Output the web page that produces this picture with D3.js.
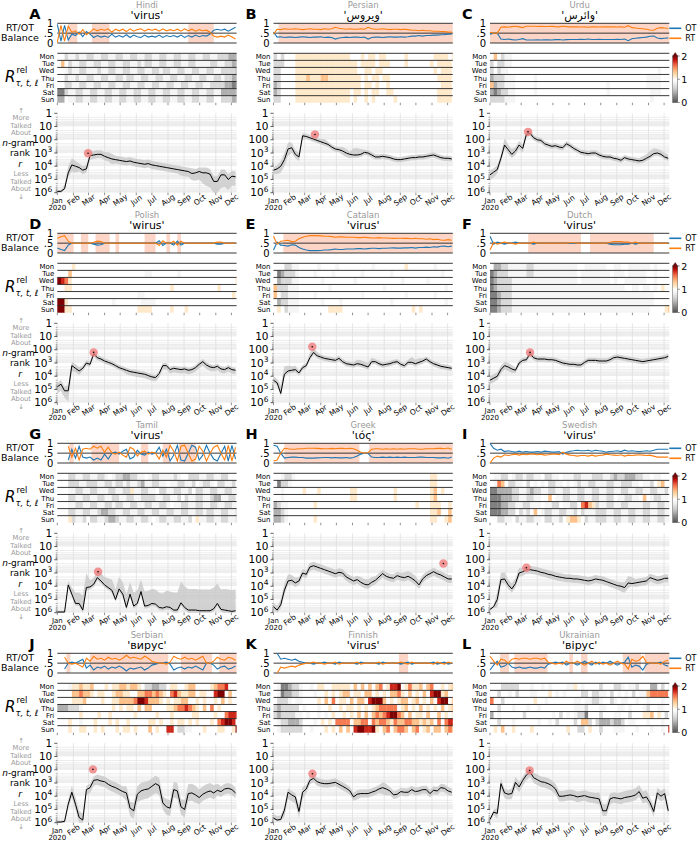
<!DOCTYPE html>
<html><head><meta charset="utf-8">
<script src="https://cdn.jsdelivr.net/npm/d3@7"></script>
<style>body{margin:0;background:#fff}svg{display:block;font-family:"DejaVu Sans",sans-serif}</style>
</head><body><svg id="c" width="700" height="843"></svg>
<script>
// ---------- DATA ----------
const LETTERS = ["A","B","C","D","E","F","G","H","I","J","K","L"];
const LANGS = ["Hindi","Persian","Urdu","Polish","Catalan","Dutch","Tamil","Greek","Swedish","Serbian","Finnish","Ukrainian"];
const WORDS = ["'virus'","'ویروس'","'وائرس'","'wirus'","'virus'","'virus'","'virus'","'ιός'","'virus'","'вирус'","'virus'","'вірус'"];
const DAYS = ["Mon","Tue","Wed","Thu","Fri","Sat","Sun"];
const RANK_TICKS = ["1","10","100","10^3","10^4","10^5","10^6"];
const BAL_TICKS = [["1",1],[".5",0.5],["0",0]];

// weekly log10(rank), week 0 = 1 Jan 2020
const RANK_A=[5.9,5.9,5.7,4.5,3.9,4.0,4.1,4.3,4.2,3.2, 3.15,3.1,3.1,3.25,3.35,3.45,3.5,3.55,3.6,3.65, 3.6,3.7,3.75,3.8,3.85,3.8,3.9,3.95,4.0,4.05, 4.1,4.15,4.2,4.25,4.3,4.35,4.4,4.55,4.5,4.4, 4.5,4.5,4.6,5.15,5.15,4.65,4.65,5.0,4.75,4.8];
const RANK_B=[4.3,4.2,4.0,3.5,2.7,2.6,3.1,3.3,1.7,1.75, 1.85,1.95,2.05,2.15,2.25,2.35,2.55,2.7,2.75,2.85, 3.0,3.1,3.15,3.15,3.1,2.95,3.0,3.15,3.3,3.3, 3.25,3.3,3.35,3.45,3.5,3.5,3.45,3.4,3.35,3.35, 3.3,3.3,3.25,3.2,3.15,3.25,3.35,3.4,3.4,3.45];
const RANK_C=[4.65,4.45,4.25,3.4,2.4,2.75,3.1,2.85,2.4,2.65, 1.6,1.5,1.85,2.0,2.05,2.3,2.4,2.5,2.45,2.55, 2.6,2.3,2.45,2.65,2.8,2.95,3.0,3.05,3.0,3.0, 3.15,3.25,3.3,3.3,3.4,3.45,3.55,3.35,3.45,3.5, 3.55,3.6,3.55,3.4,3.25,3.05,3.0,3.1,3.3,3.4];
const RANK_D=[4.8,4.6,5.1,5.1,3.2,3.4,3.6,3.4,3.0,3.1, 2.3,2.6,2.7,2.85,2.95,3.05,3.2,3.35,3.45,3.55, 3.65,3.7,3.75,3.8,3.85,3.95,4.05,4.1,3.8,3.2, 3.2,3.5,3.4,3.45,3.5,3.45,3.55,3.5,3.35,3.1, 2.9,3.15,3.3,3.35,3.25,3.45,3.5,3.35,3.5,3.55];
const RANK_E=[4.3,4.5,5.3,3.85,3.6,3.55,3.5,3.75,3.35,3.2, 2.6,2.2,2.45,2.55,2.65,2.7,2.75,2.8,2.65,2.9, 3.05,3.1,3.15,3.05,3.1,3.2,3.3,2.9,2.9,3.05, 3.15,3.1,3.05,2.95,2.9,3.1,3.2,2.95,2.95,3.05, 2.95,2.85,2.7,2.9,3.05,3.15,3.25,3.3,3.35,3.4];
const RANK_F=[4.3,4.15,4.0,3.5,3.2,3.3,3.45,3.55,3.0,2.8, 2.75,2.3,2.6,2.7,2.7,2.7,2.75,2.75,2.8,2.9, 3.0,3.05,3.1,3.1,3.15,3.15,2.95,2.8,2.8,2.8, 2.85,2.85,2.85,2.75,2.6,2.55,2.6,2.65,2.7,2.75, 2.8,2.85,2.9,2.85,2.8,2.75,2.7,2.65,2.6,2.5];
const RANK_G=[5.95,5.95,5.95,3.9,4.6,5.3,5.3,5.8,4.1,4.05, 3.85,3.35,3.6,3.9,4.1,4.3,5.0,4.2,4.6,5.6, 4.6,5.5,5.3,4.4,5.5,5.45,5.3,5.35,5.6,5.65, 5.55,5.6,5.8,5.8,5.25,5.6,5.8,5.8,5.8,5.85, 5.85,5.85,5.85,5.7,5.3,5.75,5.8,5.85,5.9,5.85];
const RANK_H=[5.55,5.8,5.4,4.3,3.6,3.55,3.75,3.6,3.0,3.1, 2.55,2.45,2.55,2.65,2.75,2.85,2.95,3.05,2.95,3.0, 3.3,3.45,3.6,3.5,3.7,3.85,3.9,3.7,3.55,3.3, 3.05,3.25,3.35,3.4,3.2,3.3,3.35,3.25,3.4,3.6, 3.9,3.45,3.2,3.05,2.9,3.05,3.15,3.3,3.45,3.45];
const RANK_I=[5.75,5.55,5.0,3.5,3.45,3.9,4.2,3.8,3.0,2.9, 2.75,2.75,2.8,2.85,2.95,3.0,3.1,3.15,3.25,3.3, 3.35,3.4,3.4,3.45,3.45,3.5,3.55,3.6,3.55,3.45, 3.5,3.55,3.65,3.75,3.85,3.95,4.0,4.1,3.75,3.8, 3.75,3.7,3.65,3.6,3.35,3.45,3.55,3.5,3.4,3.4];
const RANK_J=[5.95,5.95,5.9,4.6,3.7,4.6,5.6,5.8,3.5,3.35, 2.8,2.75,2.85,2.9,3.1,3.25,3.35,3.5,3.65,3.75, 4.9,5.1,3.85,3.6,3.5,3.45,3.25,3.05,3.2,4.5, 4.8,4.9,3.5,3.6,4.8,5.0,3.8,3.75,3.9,4.1, 3.85,3.7,3.6,3.75,3.55,3.65,3.45,3.4,3.5,3.75];
const RANK_K=[5.65,5.8,5.75,5.05,3.7,3.9,4.05,5.15,3.7,3.45, 2.8,2.65,2.9,3.0,3.05,3.05,3.0,2.95,3.1,3.25, 3.4,3.6,4.05,3.85,3.8,3.8,3.8,3.7,3.6,3.45, 3.35,3.45,3.6,3.9,3.85,3.65,3.7,3.7,3.5,3.65, 3.6,3.5,3.5,3.8,3.55,3.6,3.35,3.4,3.6,3.7];
const RANK_L=[5.75,5.2,5.3,3.05,3.75,3.85,3.8,2.95,3.3,2.8, 2.4,2.15,2.6,2.75,2.9,2.95,3.05,3.2,3.45,4.0, 4.0,3.95,3.9,3.95,4.05,4.0,3.95,4.05,4.1,4.15, 4.2,5.1,5.1,4.2,4.1,4.15,4.2,4.1,4.05,4.0, 3.9,3.65,4.15,4.05,4.5,5.15,3.75,4.0,3.8,5.1];

// band half-widths above (UP) and below (DN), base-36 digits in tenths of a decade
const UP_A="1135543333 3333443333 3333333333 3333333433 4444444444", DN_A="1113553333 3333343333 3333333333 3333444566 8aa99a9877";
const UP_B="2345543322 2222322223 3255422222 2222222222 2222222222", DN_B="3455543332 2222222223 3322222222 2222222222 2222222222";
const UP_C="3333544333 3322222222 2222222222 2222222222 2233443333", DN_C="4433333333 2222222222 2222222222 2222222222 2222222222";
const UP_D="3334333222 2222222222 2222222222 2222222222 2222222222", DN_D="5558433222 2222222223 3333333333 3333333333 3333333333";
const UP_E="3366433222 4332222222 2223333322 2222222243 3222222222", DN_E="2222222222 2222222222 2222222222 2222222222 2222222222";
const UP_F="3333333222 2222222222 2222222222 2222222222 2222222222", DN_F="3333333222 2222222222 2222222222 2222222222 2222222222";
const UP_G="1113588bb5 556678899a 9aa9bbbbbb ccddgggggg ggggffgggg", DN_G="1112222222 2222222222 2222222222 2222222222 2222222222";
const UP_H="3345544333 3333333333 3333444433 3333334444 3333333333", DN_H="2233333333 3333333333 3333333333 3333333333 3333333333";
const UP_I="1165544443 3333333333 3333333333 3333333455 3333333333", DN_I="1163333333 3333333333 3333333333 3333334442 3333333333";
const UP_J="1113555533 3444444445 5666666665 6666677776 6666544444", DN_J="1113444444 4444444446 6667777775 6666666665 5555444444";
const UP_K="3333333543 3333333333 3333333333 4433333333 3333333333", DN_K="1115555553 3333333333 3334333333 5533333333 3333333333";
const UP_L="1244334443 3344444444 4444444444 5554445555 5555444444", DN_L="2244444444 4444444444 4444444444 4444444444 4444444444";

// peak markers [week, log10 rank]
const DOT_A=[8.45,3.02], DOT_B=[11.4,1.6], DOT_C=[10.45,1.4], DOT_D=[10,2.2], DOT_E=[10.65,1.77], DOT_F=[11,2.2];
const DOT_G=[11.2,2.9], DOT_H=[46.7,2.28], DOT_I=[10,2.6], DOT_J=[9.8,1.97], DOT_K=[10.7,2.3], DOT_L=[10.9,2.05];

// weekly RT share of the RT/OT balance (OT = 1 - RT)
const RT_A=[0.05,0.9,0.1,0.85,0.55,0.62,0.45,0.68,0.42,0.55, 0.72,0.62,0.7,0.65,0.72,0.55,0.7,0.62,0.7,0.58, 0.72,0.6,0.68,0.72,0.6,0.7,0.65,0.7,0.6,0.72, 0.62,0.68,0.62,0.7,0.6,0.72,0.62,0.7,0.6,0.68, 0.62,0.65,0.55,0.35,0.3,0.35,0.3,0.4,0.3,0.2];
const RT_B=[0.45,0.7,0.68,0.72,0.7,0.7,0.72,0.7,0.68,0.7, 0.72,0.7,0.7,0.68,0.72,0.7,0.72,0.8,0.75,0.72, 0.7,0.72,0.7,0.7,0.72,0.7,0.8,0.72,0.7,0.7, 0.72,0.7,0.68,0.7,0.7,0.68,0.7,0.68,0.65,0.65, 0.62,0.65,0.62,0.62,0.6,0.6,0.58,0.58,0.55,0.55];
const RT_C=[0.55,0.5,0.5,0.8,0.82,0.8,0.83,0.85,0.82,0.78, 0.85,0.85,0.85,0.84,0.85,0.84,0.84,0.85,0.83,0.82, 0.85,0.83,0.82,0.82,0.82,0.81,0.82,0.8,0.82,0.82, 0.81,0.82,0.82,0.82,0.82,0.81,0.82,0.8,0.88,0.78, 0.76,0.74,0.72,0.7,0.66,0.65,0.75,0.78,0.76,0.74];
const RT_D=[0.75,0.82,0.88,0.6,0.5,0.5,0.5,0.5,0.5,0.5, 0.55,0.6,0.58,0.5,0.5,0.5,0.5,0.5,0.5,0.5, 0.5,0.5,0.5,0.5,0.5,0.5,0.5,0.5,0.38,0.62, 0.5,0.5,0.6,0.4,0.6,0.5,0.5,0.5,0.5,0.5, 0.5,0.5,0.5,0.5,0.55,0.55,0.5,0.5,0.5,0.5];
const RT_E=[0.85,0.45,0.6,0.62,0.65,0.58,0.6,0.72,0.8,0.85, 0.88,0.88,0.88,0.87,0.85,0.85,0.83,0.8,0.82,0.82, 0.8,0.8,0.8,0.78,0.78,0.8,0.78,0.76,0.76,0.78, 0.76,0.76,0.75,0.74,0.75,0.75,0.74,0.74,0.72,0.75, 0.72,0.72,0.7,0.72,0.68,0.7,0.66,0.65,0.68,0.65];
const RT_F=[0.15,0.55,0.45,0.5,0.55,0.5,0.5,0.45,0.5,0.5, 0.5,0.5,0.55,0.5,0.5,0.5,0.5,0.5,0.5,0.5, 0.5,0.5,0.52,0.52,0.5,0.5,0.5,0.5,0.5,0.5, 0.5,0.5,0.5,0.55,0.58,0.58,0.58,0.55,0.55,0.5, 0.55,0.5,0.5,0.5,0.5,0.5,0.5,0.5,0.5,0.5];
const RT_G=[null,null,null,0.85,0.3,0.75,0.15,0.7,0.75,0.7, 0.85,0.75,0.85,0.55,0.8,0.5,0.45,0.55,0.4,0.3, 0.8,0.7,0.35,0.55,0.6,0.45,0.55,0.5,0.2,0.65, 0.3,0.9,0.6,0.1,0.85,0.9,0.5,0.1,0.2,0.85, 0.6,0.1,0.5,0.8,0.9,0.5,0.15,0.9,0.1,0.8];
const RT_H=[0.1,0.15,0.5,0.75,0.72,0.7,0.7,0.72,0.72,0.75, 0.75,0.75,0.74,0.73,0.72,0.72,0.74,0.72,0.74,0.74, 0.72,0.75,0.72,0.65,0.55,0.5,0.52,0.7,0.72,0.72, 0.7,0.72,0.7,0.72,0.7,0.72,0.7,0.72,0.72,0.72, 0.7,0.7,0.72,0.72,0.72,0.74,0.74,0.72,0.76,0.7];
const RT_I=[0.0,0.25,0.35,0.3,0.42,0.38,0.42,0.45,0.4,0.45, 0.42,0.45,0.45,0.42,0.45,0.4,0.42,0.45,0.45,0.42, 0.55,0.45,0.4,0.38,0.35,0.38,0.38,0.35,0.4,0.35, 0.38,0.4,0.45,0.42,0.4,0.38,0.42,0.35,0.4,0.38, 0.4,0.42,0.4,0.38,0.4,0.35,0.3,0.3,0.3,0.3];
const RT_J=[null,null,0.8,0.5,0.45,0.5,0.4,0.3,0.75,0.6, 0.85,0.7,0.75,0.65,0.8,0.7,0.75,0.65,0.75,0.9, 0.75,0.8,0.75,0.7,0.85,0.75,0.6,0.55,0.5,0.5, 0.45,0.55,0.85,0.75,0.7,0.8,0.7,0.75,0.65,0.75, 0.85,0.5,0.5,0.6,0.8,0.7,0.65,0.8,0.75,0.65];
const RT_K=[null,0.0,0.3,0.25,0.3,0.35,0.3,0.4,0.45,0.5, 0.5,0.55,0.5,0.5,0.45,0.5,0.5,0.55,0.45,0.5, 0.5,0.5,0.5,0.55,0.45,0.5,0.5,0.5,0.5,0.55, 0.45,0.5,0.5,0.5,0.5,0.55,0.5,0.45,0.55,0.5, 0.5,0.5,0.5,0.5,0.45,0.55,0.5,0.45,0.55,0.5];
const RT_L=[0.85,0.6,0.4,0.7,0.65,0.5,0.7,0.75,0.7,0.75, 0.75,0.7,0.75,0.75,0.7,0.75,0.55,0.5,0.45,0.5, 0.45,0.6,0.5,0.5,0.6,0.5,0.4,0.5,0.6,0.45, 0.55,0.45,0.5,0.4,0.5,0.6,0.5,0.45,0.2,0.7, 0.6,0.65,0.85,0.55,0.5,0.5,0.5,0.45,0.6,0.65];

// shaded (RT-dominant) intervals, in weeks
const SHADE_A=[[3,5.5],[9.5,14.3],[36,43]];
const SHADE_B=[[1.4,49.5]];
const SHADE_C=[[0,49.5]];
const SHADE_D=[[0,4.5],[6.5,8.5],[10.5,14.4],[16,17],[24,27],[30,31],[33,34]];
const SHADE_E=[[2.7,49.5]];
const SHADE_F=[[10.5,25],[27.5,45]];
const SHADE_G=[[3.3,4.5],[9.4,17],[23,25],[29,31],[33.5,38]];
const SHADE_H=[[3,23.6],[26.3,49.5]];
const SHADE_I=[];
const SHADE_J=[[2.5,3.6],[9,30.5],[34,42.5],[44.5,49.5]];
const SHADE_K=[[34.5,37]];
const SHADE_L=[[2.8,5.2],[6.7,15.8],[21.8,22.8],[25,26.8],[36.5,41.5],[42.5,49.5]];

// weekly relative rank heatmap, Mon..Sun; digit d -> value d/4.5 (0..2), '.' -> 1
const HEAT_A=["..34434433 4433443344 3344334433 4433443344 3344333222",
".6.3443344 3344334433 4434334433 4433443344 4433443322",
"..43443344 4344334433 4433443343 3443344334 4334433332",
"..34434433 4433443343 3443344334 4334433443 3443343322",
"..33443344 3344334433 4433443344 3344334433 4433332211",
"1134433443 3443344334 4334433443 3443344334 4334422222",
"22.4433443 3443344334 4334433443 3443344334 433..33322"];
const HEAT_B=["3.3...5555 5555555555 5...5.55.5 5.....5... ....5555.5",
"333...5555 5555555555 555.5555.5 55....5... ...5.5555.",
"33....5555 5555555555 555..55.55 .......... ....5.555.",
"33....5556 5556655555 5555.5.55. 55........ .....5555.",
"23....5555 5555555555 5555.55.5. .5........ ......555.",
"23....5555 5555555555 5.55.5.55. .55....... .....5555.",
"33....5555 5555555555 5.5..5.5.. ...5...... .....5555."];
const HEAT_C=[".6.344.... .......... .......... .......... ..........",
"3.3344.... .......... .......... .......... ..........",
"3.344..... .......... .......... .......... ......4...",
"2333444... ..4....... .......... .......... ...4444...",
"6233444... ..4....... .......... ..4....... ...4444...",
"2123344... ..4....... .......... ..4....... ....444...",
"3333444... .......... .......... .......... ....4....."];
const HEAT_D=["....5..... .......... .......... .......... ..........",
"...6...... .......... ....44.... ...4...... ..........",
"9875...... .......... .......... .......... .........5",
"..55...... .......... .......... .5........ ....5.....",
".......... .......... ..44...... .......... ........5.",
"995....... .....4.... ...4444... .......... ..........",
"9955...... .......... ..5555.... .5...5.... .........."];
const HEAT_E=["...3344... ..4....4.. .......4.. ......5... ....4.....",
".123334... .4....4... ....4..... ..4....... ......4...",
".233344... ...4...... ..4....... .....4.... ..4.......",
"6333444... .....4.... .......... 4......... .......4..",
"6.33444... .4........ ....4..... ......4... ....4.....",
".233444... ...4....4. .......... ..4....... .......4..",
".5.3444... .....5555. .......... ........5. 5.........."];
const HEAT_F=[".223344444 3344444444 4444..4444 44..44..44 4444.4....",
"1233344444 3344444444 4444.44444 444.444.44 444..4....",
"1233334444 4444444444 4444.44444 444.4..444 444..4....",
"1233334444 4444444444 4444444444 4444444..4 4.44.4.5..",
"1123334444 4444444444 4444444444 4444444444 44444.....",
"1123334444 4444444444 4444444444 4444444444 44444.....",
"1123334444 4444444444 4444444444 4444444444 4444....56"];
const HEAT_G=["...3344334 4334.43322 3344.43344 4434..3334 4334433...",
"...3334433 3443343343 4432443344 .4433443.4 334.33443.",
"...4433443 3444334433 5443344.33 4433443.33 4433443344",
"...3344334 4334433443 3443333443 3443.34433 4432244334",
"...4433443 3443343344 3344334433 4.44334433 4433443344",
"...3344334 4322334433 4433443344 3344334433 4334433443",
"...53443.3 3443223443 344334.433 4433443.54 4334433443"];
const HEAT_H=["..4334.... .......... .......... .......... ...55.....",
".1334..... .......... .......... .......... ...55.....",
"..4.....5. ..5....... .55....... ...5...... ...56.5...",
"..4....... .......... .55....... ...5...... ...56.....",
"2344...... .5........ .......... .........5 ...555..5.",
"2234...... .......... .......... .......... ...556..6.",
"2234...... .5........ .......... .......... ...55..56."];
const HEAT_I=[".4433.4334 3344.3344. 4443344433 3443233222 3344.44...",
".476.3344. 3.4.4.3344 .4.4344334 4433443334 4.443.56..",
"1122223344 3233443344 3344334433 4433443344 334433443.",
"1112223344 3344..6.44 3344334433 4433.44334 4.6.43344.",
"1112233443 3444.4433. 4433.78653 4433443344 4433443344",
"1112233.34 3.6.433443 3443.34443 3344334433 4433443344",
"..3344.344 3344.33443 .5665.3443 3344334433 4433443344"];
const HEAT_J=["...455655 6...5.5566 5665.33223 3.55..566. ...56778..",
"....66766 5.55..5665 5..6677676 5.7865566. 55..899.6.",
"....5556. ...5..5566 6679986665 .5.5566..5 .5..5.6.5.",
"2223334... .....5.5. 55.6.66... .55677876 5.6.7.5...",
"......5... .5..5..... .5.....5.. .5.....55. ...5..7888",
"...5..4... 5...5.5.. 5.....55.5 ..5.55.5.5 ...5.78998",
"...5..55.. 5.5...5.55 .5...6.5.. 88.3344... 5...55..59"];
const HEAT_K=[".4112334.. 4.55..5555 5.6.6.6.67 .5889.5755 6.67..5.56",
".4122334.. .4..5.5.56 6.55.66.5. 5.6675.6.5 .6.89956..",
".3334.44.. ..5.6.7.55 .6.66.8999 6.5.566.56 .5.6.899.6",
"3233333.4. ..4..5..5. 55.5.5.567 7777.56.5. 6.5.5.6.56",
"32333344.4 ..4.4.5..5 .5.6.6.676 789976.6.5 5.6..6.5.5",
".4332223.. .4.5.5.777 7.6677.767 7657667766 5656.7.788",
".4333333.. 4...5.5.6. 6.8998895. 67.6776.67 .56.66.676"];
const HEAT_L=["...33333.. .4..4.4... .445.4.... 3...334.44 3...22.3.4",
"..3..4.3.. .44...5.4. 4....33.33 44.3.4.4.3 .44677777",
"7..3...... ..5..4.... ...44.4433 4..34.44.. 4..4...4.",
"..3...4... 4..4...... ...4443... 44...44.4. ..43..44..",
"2.4......3 .......4.3 .4.4331... 3...44..3. ..556.5.3.",
"..3...4... ...4..4.3. ...3.663.3 2223223.44 ...4...4..",
".5.6..5... .5........ .5..33.5.. 3...444... 4...4..4.8"];

const PANELS = [
 [RANK_A,UP_A,DN_A,DOT_A,RT_A,SHADE_A,HEAT_A],[RANK_B,UP_B,DN_B,DOT_B,RT_B,SHADE_B,HEAT_B],
 [RANK_C,UP_C,DN_C,DOT_C,RT_C,SHADE_C,HEAT_C],[RANK_D,UP_D,DN_D,DOT_D,RT_D,SHADE_D,HEAT_D],
 [RANK_E,UP_E,DN_E,DOT_E,RT_E,SHADE_E,HEAT_E],[RANK_F,UP_F,DN_F,DOT_F,RT_F,SHADE_F,HEAT_F],
 [RANK_G,UP_G,DN_G,DOT_G,RT_G,SHADE_G,HEAT_G],[RANK_H,UP_H,DN_H,DOT_H,RT_H,SHADE_H,HEAT_H],
 [RANK_I,UP_I,DN_I,DOT_I,RT_I,SHADE_I,HEAT_I],[RANK_J,UP_J,DN_J,DOT_J,RT_J,SHADE_J,HEAT_J],
 [RANK_K,UP_K,DN_K,DOT_K,RT_K,SHADE_K,HEAT_K],[RANK_L,UP_L,DN_L,DOT_L,RT_L,SHADE_L,HEAT_L]
].map((p,i)=>({letter:LETTERS[i],lang:LANGS[i],word:WORDS[i],rank:p[0],up:p[1],dn:p[2],dot:p[3],rt:p[4],shade:p[5],heat:p[6]}));

// ---------- DRAWING ----------
const svg = d3.select("#c");
const COLX=[57.3,273.5,490], W=179.3, ROWH=210;
const BAL_TOP=23.3, BAL_BOT=43, HM_TOP=53.3, HM_ROW=7.06, RK_TOP=113.3, RK_BOT=192.7;
const t0=new Date(2020,0,1), t1=new Date(2020,11,11);
const x=d3.scaleTime().domain([t0,t1]).range([0,W]);
const wd=w=>new Date(t0.getTime()+w*7*864e5);
const xw=w=>Math.max(0,Math.min(W,x(wd(w))));
const months=d3.timeMonth.range(t0,t1);
const yb=d3.scaleLinear().domain([0,1]).range([BAL_BOT,BAL_TOP]);
const yr=d3.scaleLinear().domain([0,6]).range([RK_TOP,RK_BOT]);
const MONTHNAMES=d3.timeFormat("%b");
const BLUE="#1f77b4", ORANGE="#ff7f0e", SHADE="#fcd5c6";
const heatColor=v=> v<=1 ? d3.interpolateGreys(0.75*(1-v)) : d3.interpolateOrRd(Math.min(1,v-1));
const clean=s=>s.replace(/\s/g,"");
const cellVal=ch=> ch==="." ? 1 : (+ch)/4.5;
const spread=(s,i)=>{const c=clean(s)[i]; return c?parseInt(c,36)/10:0.2;};

PANELS.forEach((P,i)=>{
  const col=i%3,row=Math.floor(i/3);
  const g=svg.append("g").attr("transform",`translate(${COLX[col]},${row*ROWH})`);
  // titles
  g.append("text").attr("x",W/2).attr("y",8).attr("text-anchor","middle").attr("font-size",8.5).attr("fill","#9a9a9a").text(P.lang);
  g.append("text").attr("x",W/2).attr("y",18.8).attr("text-anchor","middle").attr("font-size",11).attr("fill","#000").text(P.word);
  g.append("text").attr("x",-28).attr("y",19).attr("font-size",14.5).attr("font-weight","bold").text(P.letter);

  // ---- balance ----
  P.shade.forEach(([a,b])=>g.append("rect").attr("x",xw(a)).attr("y",BAL_TOP).attr("width",Math.max(0,xw(b)-xw(a))).attr("height",BAL_BOT-BAL_TOP).attr("fill",SHADE));
  [0,0.5,1].forEach(v=>g.append("line").attr("x1",0).attr("x2",W).attr("y1",yb(v)).attr("y2",yb(v)).attr("stroke","#222").attr("stroke-width",0.9));
  const bl=d3.line().defined(d=>d.v!=null).x(d=>x(wd(d.w))).y(d=>yb(d.v));
  const ot=P.rt.map((v,w)=>({w,v:v==null?null:1-v})), rt=P.rt.map((v,w)=>({w,v}));
  g.append("path").attr("d",bl(ot)).attr("fill","none").attr("stroke",BLUE).attr("stroke-width",1.1);
  g.append("path").attr("d",bl(rt)).attr("fill","none").attr("stroke",ORANGE).attr("stroke-width",1.1);
  BAL_TICKS.forEach(([t,v])=>g.append("text").attr("x",-4).attr("y",yb(v)+3.6).attr("text-anchor","end").attr("font-size",10).text(t));

  // ---- heatmap ----
  P.heat.forEach((s,r)=>{
    const cs=clean(s);
    for(let c=0;c<50;c++){
      const ch=cs[c]||".";
      const x0=xw(c), x1=xw(c+1);
      if(x1<=x0) continue;
      g.append("rect").attr("x",x0).attr("y",HM_TOP+r*HM_ROW).attr("width",Math.min(W-x0,x1-x0+0.3)).attr("height",HM_ROW).attr("fill",heatColor(cellVal(ch)));
    }
  });
  for(let r=0;r<7;r++){
    g.append("line").attr("x1",0).attr("x2",W).attr("y1",HM_TOP+r*HM_ROW).attr("y2",HM_TOP+r*HM_ROW).attr("stroke","#222").attr("stroke-width",0.9);
    g.append("text").attr("x",-3).attr("y",HM_TOP+(r+0.5)*HM_ROW+2.5).attr("text-anchor","end").attr("font-size",7).text(DAYS[r]);
  }
  months.forEach(m=>g.append("line").attr("x1",x(m)).attr("x2",x(m)).attr("y1",HM_TOP+7*HM_ROW).attr("y2",HM_TOP+7*HM_ROW+2.5).attr("stroke","#444").attr("stroke-width",0.6));

  // ---- rank plot ----
  for(let k=0;k<6;k++) for(let m=2;m<=9;m++){
    const yy=yr(k+Math.log10(m));
    g.append("line").attr("x1",0).attr("x2",W).attr("y1",yy).attr("y2",yy).attr("stroke","#ececec").attr("stroke-width",1);
  }
  months.forEach(m=>g.append("line").attr("x1",x(m)).attr("x2",x(m)).attr("y1",RK_TOP).attr("y2",RK_BOT).attr("stroke","#dcdcdc").attr("stroke-width",0.7));
  const band=P.rank.map((v,w)=>({w,lo:Math.max(0,v-spread(P.up,w)),hi:Math.min(6,v+spread(P.dn,w))}));
  g.append("path").attr("d",d3.area().x(d=>x(wd(d.w))).y0(d=>yr(d.lo)).y1(d=>yr(d.hi))(band)).attr("fill","#c8c8c8").attr("opacity",0.8);
  g.append("path").attr("d",d3.line().x((d,w)=>x(wd(w))).y(d=>yr(d))(P.rank)).attr("fill","none").attr("stroke","#000").attr("stroke-width",1);
  g.append("circle").attr("cx",x(wd(P.dot[0]))).attr("cy",yr(P.dot[1])).attr("r",4.2).attr("fill","#f07c7c").attr("opacity",0.8);
  g.append("circle").attr("cx",x(wd(P.dot[0]))).attr("cy",yr(P.dot[1])).attr("r",0.8).attr("fill","#000");
  // y axis
  RANK_TICKS.forEach((t,k)=>{
    g.append("line").attr("x1",-3).attr("x2",0).attr("y1",yr(k)).attr("y2",yr(k)).attr("stroke","#333").attr("stroke-width",0.8);
    const tx=g.append("text").attr("x",-5).attr("y",yr(k)+3.6).attr("text-anchor","end").attr("font-size",10.5);
    if(t.includes("^")){const [b,e]=t.split("^"); tx.append("tspan").text(b); tx.append("tspan").attr("dy",-4.5).attr("font-size",7.5).text(e);}
    else tx.text(t);
    if(k<6) for(let m=2;m<=9;m++){const yy=yr(k+Math.log10(m)); g.append("line").attr("x1",-1.6).attr("x2",0).attr("y1",yy).attr("y2",yy).attr("stroke","#555").attr("stroke-width",0.5);}
  });
  // x axis labels
  months.forEach(m=>{
    const mx=x(m);
    g.append("line").attr("x1",mx).attr("x2",mx).attr("y1",RK_BOT).attr("y2",RK_BOT+2.5).attr("stroke","#444").attr("stroke-width",0.6);
    if(m.getMonth()===0){
      g.append("text").attr("x",mx).attr("y",203.2).attr("text-anchor","middle").attr("font-size",7).text("Jan");
      g.append("text").attr("x",mx).attr("y",210.3).attr("text-anchor","middle").attr("font-size",7).text("2020");
    } else {
      g.append("text").attr("transform",`translate(${mx},200) rotate(-35)`).attr("text-anchor","middle").attr("dy","0.35em").attr("font-size",7.5).text(MONTHNAMES(m));
    }
  });

  // ---- left column labels ----
  if(col===0){
    const L=g.append("g").attr("transform","translate(-57.3,0)");
    L.append("text").attr("x",20).attr("y",30.8).attr("text-anchor","middle").attr("font-size",9.5).text("RT/OT");
    L.append("text").attr("x",20).attr("y",41).attr("text-anchor","middle").attr("font-size",9.5).text("Balance");
    L.append("text").attr("x",5).attr("y",82).attr("font-size",15).attr("font-style","italic").text("R");
    L.append("text").attr("x",16.5).attr("y",72.5).attr("font-size",8.5).text("rel");
    L.append("text").attr("x",15.5).attr("y",85.5).attr("font-size",8.5).attr("font-style","italic").text("τ, t, ℓ");
    const gray=[["↑",112.5],["More",120],["Talked",127.7],["About",135.3],["Less",176],["Talked",183.6],["About",191.3],["↓",199]];
    gray.forEach(([t,y])=>L.append("text").attr("x",21).attr("y",y).attr("text-anchor","middle").attr("font-size",6.8).attr("fill","#9a9a9a").text(t));
    const ng=L.append("text").attr("x",18.5).attr("y",145.6).attr("text-anchor","middle").attr("font-size",9);
    ng.append("tspan").attr("font-style","italic").text("n"); ng.append("tspan").text("-gram");
    L.append("text").attr("x",20).attr("y",156.2).attr("text-anchor","middle").attr("font-size",9).text("rank");
    L.append("text").attr("x",20).attr("y",166.8).attr("text-anchor","middle").attr("font-size",9).attr("font-style","italic").text("r");
  }

  // ---- right column: legend + colorbar ----
  if(col===2){
    [["OT",BLUE,28.3],["RT",ORANGE,38.3]].forEach(([t,c,y])=>{
      g.append("line").attr("x1",W).attr("x2",W+12).attr("y1",y).attr("y2",y).attr("stroke",c).attr("stroke-width",1.6);
      g.append("text").attr("x",W+16).attr("y",y+3).attr("font-size",8).text(t);
    });
    const gid="cb"+i;
    const grad=svg.append("defs").append("linearGradient").attr("id",gid).attr("x1",0).attr("x2",0).attr("y1",1).attr("y2",0);
    d3.range(0,2.001,0.1).forEach(v=>grad.append("stop").attr("offset",v/2).attr("stop-color",heatColor(v)));
    const cx=182.7, cw=5, ctop=56, cbot=102.5;
    g.append("rect").attr("x",cx).attr("y",ctop).attr("width",cw).attr("height",cbot-ctop).attr("fill",`url(#${gid})`).attr("stroke","#333").attr("stroke-width",0.4);
    g.append("path").attr("d",`M${cx},${ctop}L${cx+cw},${ctop}L${cx+cw/2},${ctop-3.5}Z`).attr("fill",heatColor(2)).attr("stroke","#333").attr("stroke-width",0.4);
    [[2,ctop],[1,(ctop+cbot)/2],[0,cbot]].forEach(([v,y])=>{
      g.append("line").attr("x1",cx+cw).attr("x2",cx+cw+2).attr("y1",y).attr("y2",y).attr("stroke","#333").attr("stroke-width",0.6);
      g.append("text").attr("x",cx+cw+3.5).attr("y",y+3.5).attr("font-size",9.5).text(v);
    });
  }
});
</script></body></html>
